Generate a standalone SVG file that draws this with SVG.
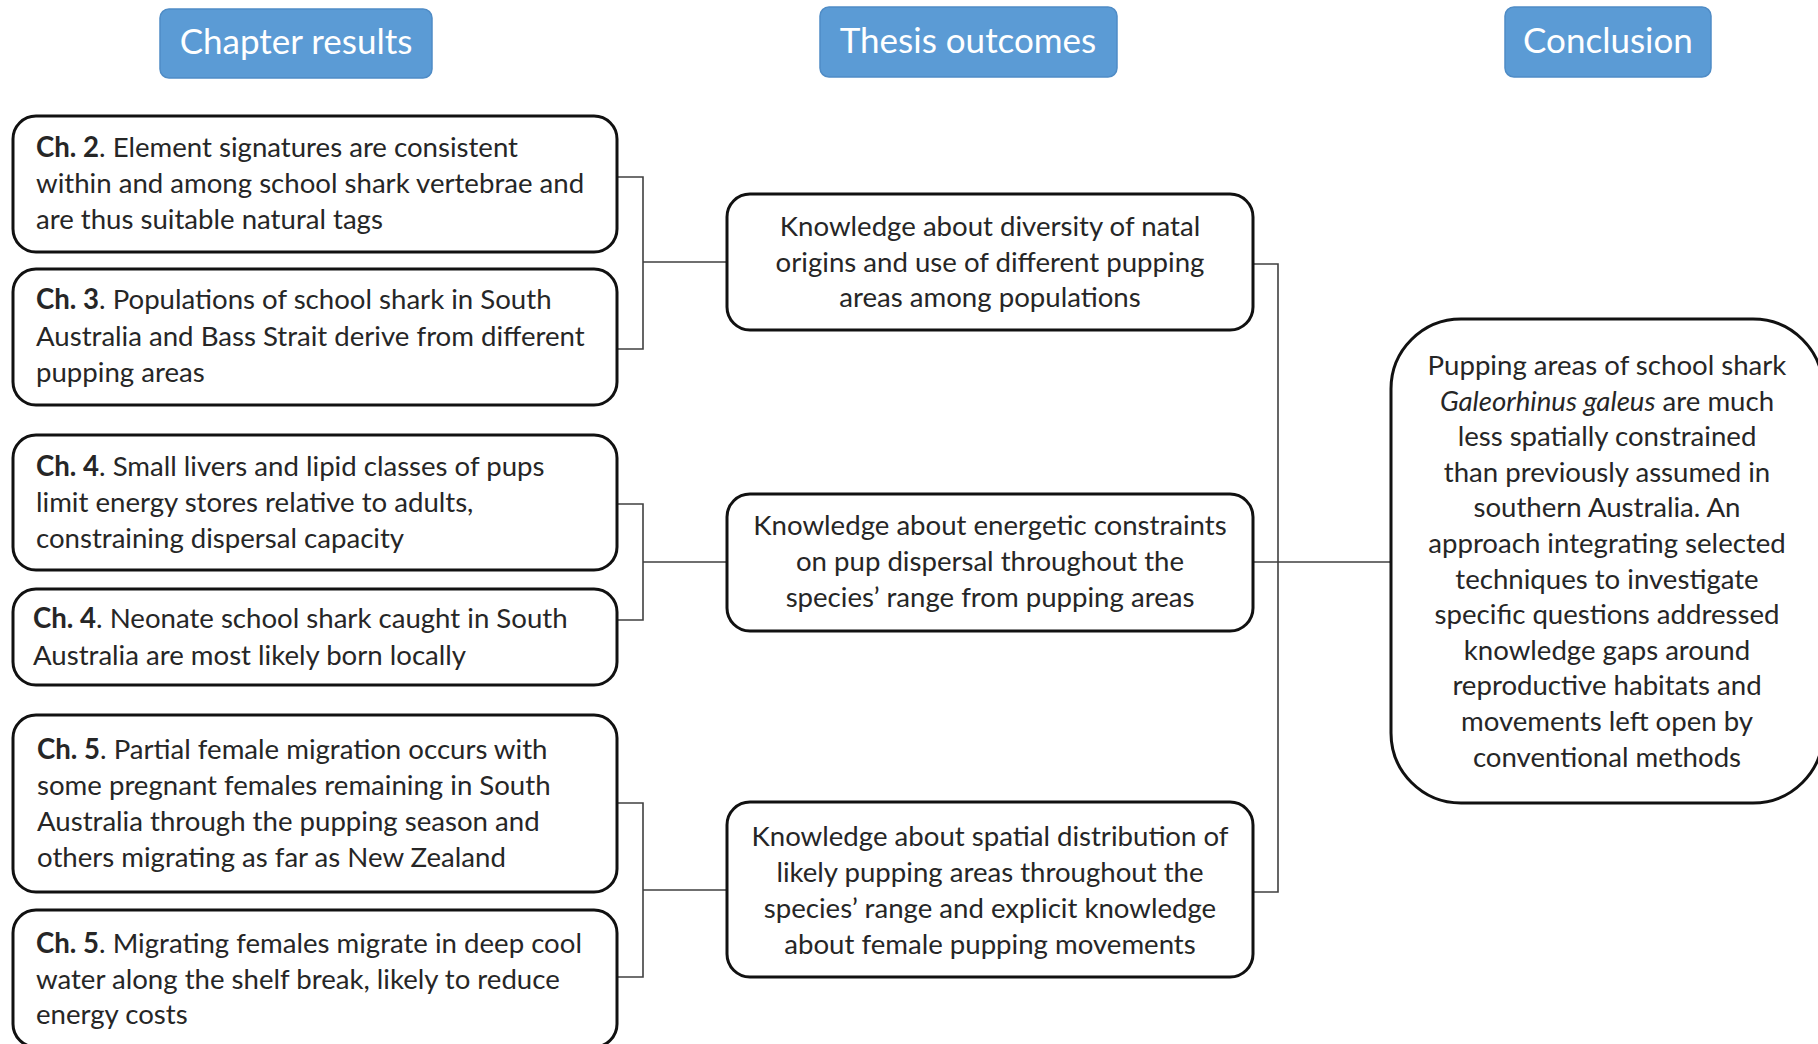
<svg xmlns="http://www.w3.org/2000/svg" width="1818" height="1044" viewBox="0 0 1818 1044">
<style>
.hdr rect{fill:#5B9BD5;stroke:#4F8CC6;stroke-width:1.5}
.hdr text{fill:#fff;font-family:Lato,"Liberation Sans",sans-serif;font-size:35px;text-anchor:middle}
.box{fill:#fff;stroke:#111;stroke-width:3}
.t{fill:#262626;font-family:Lato,"Liberation Sans",sans-serif;font-size:27.6px}
.c{text-anchor:middle}
.b{font-weight:bold}
.conn path{fill:none;stroke:#404040;stroke-width:1.6}
</style>
<rect width="1818" height="1044" fill="#fff"/>
<g id="hdr-chapter" class="hdr"><rect x="160" y="9" width="272" height="69" rx="9"/><text x="296" y="54">Chapter results</text></g>
<g id="hdr-thesis" class="hdr"><rect x="820" y="7" width="297" height="70" rx="9"/><text x="968" y="53">Thesis outcomes</text></g>
<g id="hdr-conclusion" class="hdr"><rect x="1505" y="7" width="206" height="70" rx="9"/><text x="1608" y="53">Conclusion</text></g>

<g class="conn" id="connectors">
<path d="M617 177H643V349H617M643 262H727"/>
<path d="M617 504H643V620H617M643 562H727"/>
<path d="M617 803H643V977H617M643 890H727"/>
<path d="M1253 264H1278V892H1253M1253 562H1391"/>
</g>

<g id="ch2"><rect class="box" x="13" y="116" width="604" height="136" rx="23"/>
<text class="t" x="36" y="157"><tspan class="b">Ch. 2</tspan>. Element signatures are consistent</text>
<text class="t" x="36" y="193">within and among school shark vertebrae and</text>
<text class="t" x="36" y="229">are thus suitable natural tags</text></g>

<g id="ch3"><rect class="box" x="13" y="269" width="604" height="136" rx="23"/>
<text class="t" x="36" y="309"><tspan class="b">Ch. 3</tspan>. Populations of school shark in South</text>
<text class="t" x="36" y="346">Australia and Bass Strait derive from different</text>
<text class="t" x="36" y="382">pupping areas</text></g>

<g id="ch4a"><rect class="box" x="13" y="435" width="604" height="135" rx="23"/>
<text class="t" x="36" y="476"><tspan class="b">Ch. 4</tspan>. Small livers and lipid classes of pups</text>
<text class="t" x="36" y="512">limit energy stores relative to adults,</text>
<text class="t" x="36" y="548">constraining dispersal capacity</text></g>

<g id="ch4b"><rect class="box" x="13" y="589" width="604" height="96" rx="23"/>
<text class="t" x="33" y="628"><tspan class="b">Ch. 4</tspan>. Neonate school shark caught in South</text>
<text class="t" x="33" y="665">Australia are most likely born locally</text></g>

<g id="ch5a"><rect class="box" x="13" y="715" width="604" height="177" rx="23"/>
<text class="t" x="37" y="759"><tspan class="b">Ch. 5</tspan>. Partial female migration occurs with</text>
<text class="t" x="37" y="795">some pregnant females remaining in South</text>
<text class="t" x="37" y="831">Australia through the pupping season and</text>
<text class="t" x="37" y="867">others migrating as far as New Zealand</text></g>

<g id="ch5b"><rect class="box" x="13" y="910" width="604" height="137" rx="23"/>
<text class="t" x="36" y="953"><tspan class="b">Ch. 5</tspan>. Migrating females migrate in deep cool</text>
<text class="t" x="36" y="989">water along the shelf break, likely to reduce</text>
<text class="t" x="36" y="1024">energy costs</text></g>

<g id="outcome1"><rect class="box" x="727" y="194" width="526" height="136" rx="23"/>
<text class="t c" x="990" y="236">Knowledge about diversity of natal</text>
<text class="t c" x="990" y="272">origins and use of different pupping</text>
<text class="t c" x="990" y="307">areas among populations</text></g>

<g id="outcome2"><rect class="box" x="727" y="494" width="526" height="137" rx="23"/>
<text class="t c" x="990" y="535">Knowledge about energetic constraints</text>
<text class="t c" x="990" y="571">on pup dispersal throughout the</text>
<text class="t c" x="990" y="607">species’ range from pupping areas</text></g>

<g id="outcome3"><rect class="box" x="727" y="802" width="526" height="175" rx="23"/>
<text class="t c" x="990" y="846">Knowledge about spatial distribution of</text>
<text class="t c" x="990" y="882">likely pupping areas throughout the</text>
<text class="t c" x="990" y="918">species’ range and explicit knowledge</text>
<text class="t c" x="990" y="954">about female pupping movements</text></g>

<g id="conclusion"><rect class="box" x="1391" y="319" width="432" height="484" rx="70"/>
<text class="t c" x="1607" y="375">Pupping areas of school shark</text>
<text class="t c" x="1607" y="411"><tspan font-style="italic">Galeorhinus galeus</tspan> are much</text>
<text class="t c" x="1607" y="446">less spatially constrained</text>
<text class="t c" x="1607" y="482">than previously assumed in</text>
<text class="t c" x="1607" y="517">southern Australia. An</text>
<text class="t c" x="1607" y="553">approach integrating selected</text>
<text class="t c" x="1607" y="589">techniques to investigate</text>
<text class="t c" x="1607" y="624">specific questions addressed</text>
<text class="t c" x="1607" y="660">knowledge gaps around</text>
<text class="t c" x="1607" y="695">reproductive habitats and</text>
<text class="t c" x="1607" y="731">movements left open by</text>
<text class="t c" x="1607" y="767">conventional methods</text></g>
</svg>
